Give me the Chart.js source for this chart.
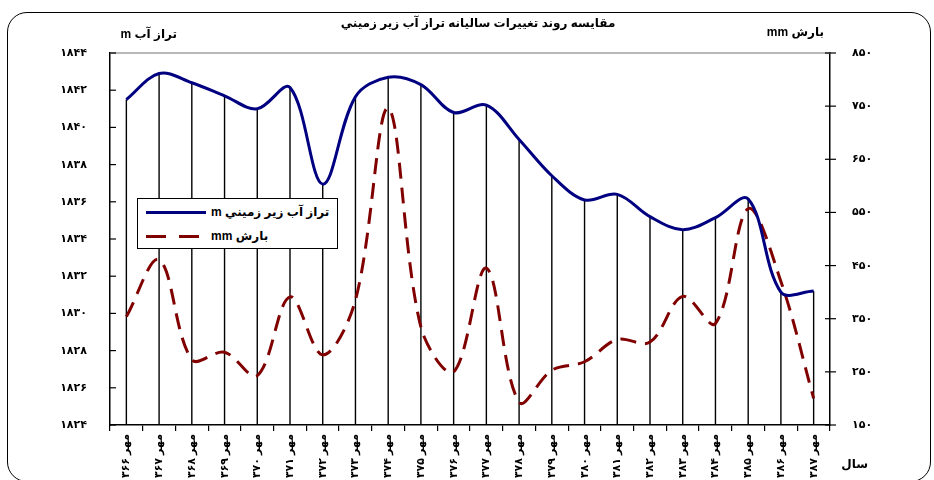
<!DOCTYPE html>
<html>
<head>
<meta charset="utf-8">
<script src="https://cdn.jsdelivr.net/npm/chart.js@4.4.1/dist/chart.umd.min.js"></script>
<style>
  body { margin: 0; background: #fff; }
  #wrap { position: relative; width: 934px; height: 480px; overflow: hidden; }
  #frame { position: absolute; left: 7px; top: 12px; width: 922px; height: 468px; border: 1.5px solid #000; border-radius: 20px; }
  #myChart { position: absolute; left: 0; top: 0; }
  #legend { position: absolute; left: 137px; top: 198px; width: 199px; height: 49px; border: 1px solid #000; background: #fff;
            font: bold 12px "Liberation Sans", "DejaVu Sans", sans-serif; color: #000; }
  .legend-item { position: absolute; left: 8px; height: 16px; display: flex; align-items: center; }
  .legend-line { width: 60px; height: 3px; margin-right: 5px; }
  .legend-text { white-space: nowrap; }
</style>
</head>
<body>
<div id="wrap">
  <div id="frame"></div>
  <canvas id="myChart" width="934" height="480"></canvas>
  <div id="legend"></div>
</div>
<script>
// kategori tahun (mehr)
const categories = ["مهر ۱۳۶۶", "مهر ۱۳۶۷", "مهر ۱۳۶۸", "مهر ۱۳۶۹", "مهر ۱۳۷۰", "مهر ۱۳۷۱", "مهر ۱۳۷۲", "مهر ۱۳۷۳",
  "مهر ۱۳۷۴", "مهر ۱۳۷۵", "مهر ۱۳۷۶", "مهر ۱۳۷۷", "مهر ۱۳۷۸", "مهر ۱۳۷۹", "مهر ۱۳۸۰", "مهر ۱۳۸۱",
  "مهر ۱۳۸۲", "مهر ۱۳۸۳", "مهر ۱۳۸۴", "مهر ۱۳۸۵", "مهر ۱۳۸۶", "مهر ۱۳۸۷"];

// tinggi muka air tanah (m)
const waterLevel = [1841.5, 1842.9, 1842.4, 1841.7, 1841.0, 1842.15, 1836.95, 1841.65, 1842.7, 1842.3, 1840.8,
  1841.2, 1839.35, 1837.4, 1836.1, 1836.4, 1835.2, 1834.5, 1835.15, 1836.15, 1831.15, 1831.2];

// curah hujan (mm)
const rainfall = [354, 461, 273, 287, 243, 391, 282, 385, 746, 334, 250, 445, 193, 253, 269, 311, 306, 392, 341, 557, 420, 200];

// label sumbu
const leftTickLabels = ["۱۸۲۴", "۱۸۲۶", "۱۸۲۸", "۱۸۳۰", "۱۸۳۲", "۱۸۳۴", "۱۸۳۶", "۱۸۳۸", "۱۸۴۰", "۱۸۴۲", "۱۸۴۴"];
const rightTickLabels = ["۱۵۰", "۲۵۰", "۳۵۰", "۴۵۰", "۵۵۰", "۶۵۰", "۷۵۰", "۸۵۰"];

const series = [
  { label: "تراز آب زير زميني m", color: "#000080", dash: false },
  { label: "بارش mm", color: "#800000", dash: true },
];

const FONT = '"Liberation Sans", "DejaVu Sans", sans-serif';

// plugin: garis vertikal, tick, teks tambahan
const extras = {
  id: "extras",
  beforeDatasetsDraw(chart) {
    const c = chart.ctx, a = chart.chartArea;
    c.save();
    c.strokeStyle = "#000";
    c.lineWidth = 1.4;
    chart.getDatasetMeta(0).data.forEach((p) => {
      c.beginPath();
      c.moveTo(p.x, p.y);
      c.lineTo(p.x, a.bottom);
      c.stroke();
    });
    c.restore();
  },
  afterDraw(chart) {
    const c = chart.ctx, a = chart.chartArea;
    c.save();
    // garis atas area plot
    c.strokeStyle = "#a0a0a0";
    c.lineWidth = 1.5;
    c.beginPath();
    c.moveTo(a.left, a.top);
    c.lineTo(a.right, a.top);
    c.stroke();
    // tick sumbu y
    c.strokeStyle = "#000";
    c.lineWidth = 1.2;
    const yl = chart.scales.y, yr = chart.scales.y1;
    yl.ticks.forEach((t) => {
      const y = yl.getPixelForValue(t.value);
      c.beginPath(); c.moveTo(a.left, y); c.lineTo(a.left + 6, y); c.stroke();
    });
    yr.ticks.forEach((t) => {
      const y = yr.getPixelForValue(t.value);
      c.beginPath(); c.moveTo(a.right - 5, y); c.lineTo(a.right + 6, y); c.stroke();
    });
    // teks
    c.fillStyle = "#000";
    c.direction = "rtl";
    c.textBaseline = "middle";
    c.font = "bold 12px " + FONT;
    c.textAlign = "center";
    c.fillText("مقايسه روند تغييرات ساليانه تراز آب زير زميني", 478, 24);
    c.textAlign = "right";
    c.fillText("تراز آب m", 177, 35);
    c.fillText("بارش mm", 824, 33);
    c.fillText("سال", 868, 465);
    c.restore();
  },
};

var ctx = document.getElementById("myChart").getContext("2d");

var myChart = new Chart(ctx, {
  type: "line",
  data: {
    labels: categories,
    datasets: [
      {
        label: series[0].label,
        data: waterLevel,
        yAxisID: "y",
        borderColor: series[0].color,
        borderWidth: 3,
        pointRadius: 0,
        tension: 0.35,
        fill: false,
      },
      {
        label: series[1].label,
        data: rainfall,
        yAxisID: "y1",
        borderColor: series[1].color,
        borderWidth: 3,
        borderDash: [16, 9],
        pointRadius: 0,
        tension: 0.35,
        fill: false,
      },
    ],
  },
  options: {
    responsive: false,
    animation: false,
    layout: { padding: { top: 53, left: 0, right: 0, bottom: 0 } },
    plugins: {
      legend: { display: false },
      title: { display: false },
      tooltip: { enabled: false },
    },
    scales: {
      x: {
        offset: true,
        grid: { display: true, drawOnChartArea: false, offset: true, tickLength: 6, color: "#000", lineWidth: 1.2 },
        border: { display: true, color: "#000", width: 1.5 },
        ticks: {
          autoSkip: false,
          minRotation: 90,
          maxRotation: 90,
          padding: 3,
          color: "#000",
          font: { family: FONT, size: 11, weight: "bold" },
        },
        afterFit: (s) => { s.height = 55; },
      },
      y: {
        position: "left",
        min: 1824,
        max: 1844,
        grid: { display: false },
        border: { display: true, color: "#000", width: 1.5 },
        ticks: {
          stepSize: 2,
          padding: 15,
          color: "#000",
          font: { family: FONT, size: 11, weight: "bold" },
          callback: (v) => leftTickLabels[(v - 1824) / 2],
        },
        afterFit: (s) => { s.width = 110; },
      },
      y1: {
        position: "right",
        min: 150,
        max: 850,
        grid: { display: false },
        border: { display: true, color: "#000", width: 1.5 },
        ticks: {
          stepSize: 100,
          padding: 14,
          color: "#000",
          font: { family: FONT, size: 11, weight: "bold" },
          callback: (v) => rightTickLabels[(v - 150) / 100],
        },
        afterFit: (s) => { s.width = 104; },
      },
    },
  },
  plugins: [extras],
});

// legenda HTML
const legendContainer = document.getElementById("legend");
series.forEach((s, i) => {
  const item = document.createElement("div");
  item.className = "legend-item";
  item.style.top = (i === 0 ? 5 : 29) + "px";

  const line = document.createElement("span");
  line.className = "legend-line";
  line.style.background = s.dash
    ? `repeating-linear-gradient(to right, ${s.color} 0 20px, transparent 20px 33px)`
    : s.color;

  const text = document.createElement("span");
  text.className = "legend-text";
  text.dir = "rtl";
  text.textContent = s.label;

  item.appendChild(line);
  item.appendChild(text);
  legendContainer.appendChild(item);
});
</script>
</body>
</html>
